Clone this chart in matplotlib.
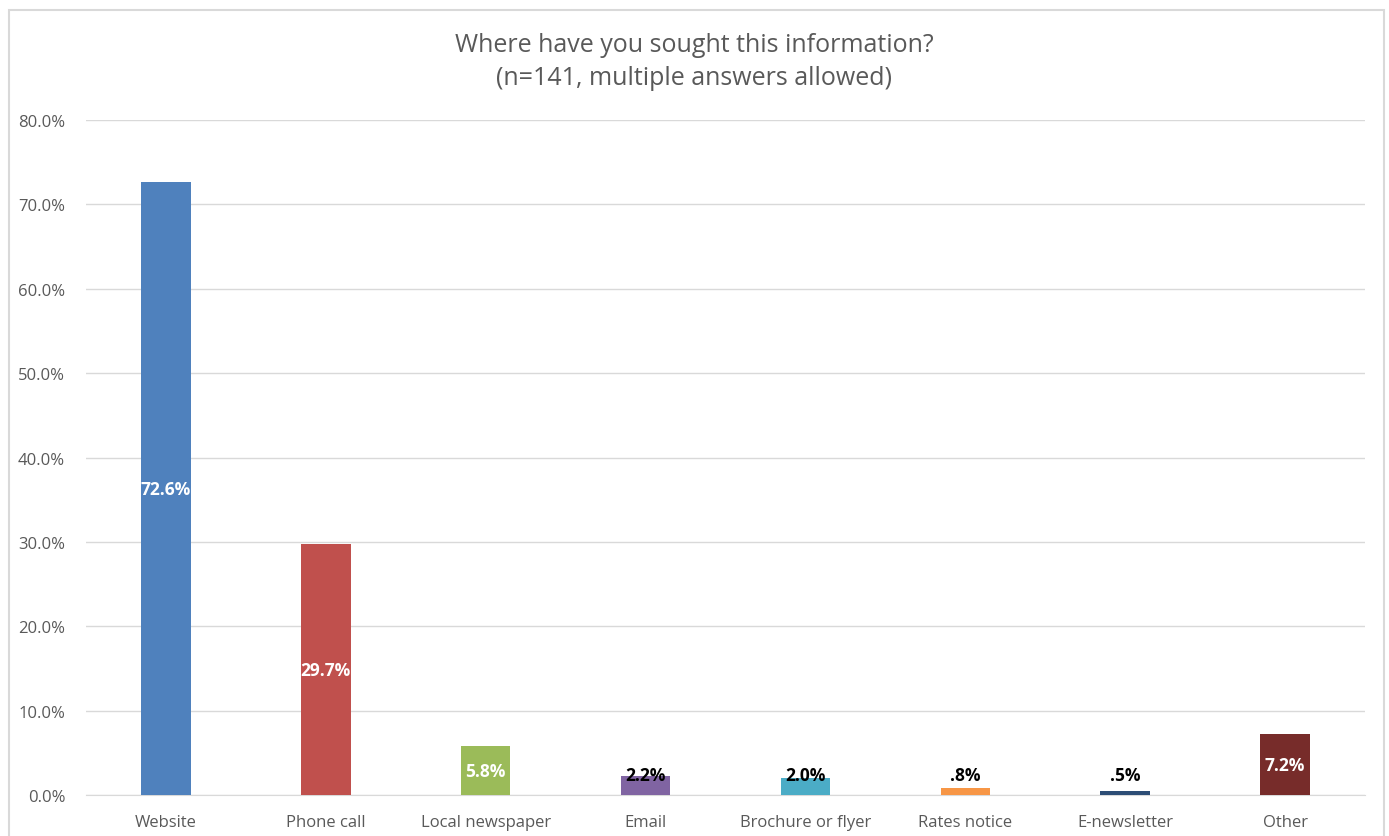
import matplotlib
matplotlib.use("Agg")
import matplotlib.pyplot as plt
from matplotlib.patches import Rectangle
from matplotlib.ticker import FuncFormatter

plt.rcParams['font.family'] = ['Open Sans', 'DejaVu Sans']

categories = ['Website', 'Phone call', 'Local newspaper', 'Email',
              'Brochure or flyer', 'Rates notice', 'E-newsletter', 'Other']
values = [72.6, 29.7, 5.8, 2.2, 2.0, 0.8, 0.5, 7.2]
value_labels = ['72.6%', '29.7%', '5.8%', '2.2%', '2.0%', '.8%', '.5%', '7.2%']
colors = ['#4F81BD', '#C0504D', '#9BBB59', '#8064A2',
          '#4BACC6', '#F79646', '#2C4D75', '#772C2A']

fig = plt.figure(figsize=(13.89, 8.37), dpi=100)
ax = fig.add_axes([0.0619, 0.049, 0.9208, 0.8064])

x = range(len(categories))
ax.bar(x, values, width=0.31, color=colors, zorder=3)

# white labels sit mid-bar, short bars get black labels just above the base
for i, v in enumerate(values):
    if v >= 5:
        ax.text(i, v / 2, value_labels[i], ha='center', va='center',
                color='white', fontsize=12.5, fontweight='bold', zorder=4)
    else:
        ax.text(i, max(v / 2, 2.35), value_labels[i], ha='center', va='center',
                color='black', fontsize=12.5, fontweight='bold', zorder=4)

ax.set_xlim(-0.5, len(categories) - 0.5)
ax.set_ylim(0, 80)
ax.set_yticks(range(0, 81, 10))
ax.yaxis.set_major_formatter(FuncFormatter(lambda v, p: f'{v:.1f}%'))
ax.set_xticks(list(x))
ax.set_xticklabels(categories)
ax.tick_params(axis='both', length=0, colors='#595959', labelsize=12)
ax.tick_params(axis='x', pad=14)
ax.tick_params(axis='y', pad=15)
ax.grid(axis='y', color='#D9D9D9', linewidth=1, zorder=0)
for s in ['top', 'right', 'left']:
    ax.spines[s].set_visible(False)
ax.spines['bottom'].set_color('#D9D9D9')

fig.text(0.5, 0.946, 'Where have you sought this information?', ha='center',
         va='center', fontsize=18, color='#595959')
fig.text(0.5, 0.906, '(n=141, multiple answers allowed)', ha='center',
         va='center', fontsize=18, color='#595959')

fig.patches.append(Rectangle((9 / 1389, -0.05), 1375 / 1389, 1.05 - 11 / 837,
                             transform=fig.transFigure, fill=False,
                             edgecolor='#D9D9D9', linewidth=1.5))

fig.savefig('out.png', dpi=100, facecolor='white')
